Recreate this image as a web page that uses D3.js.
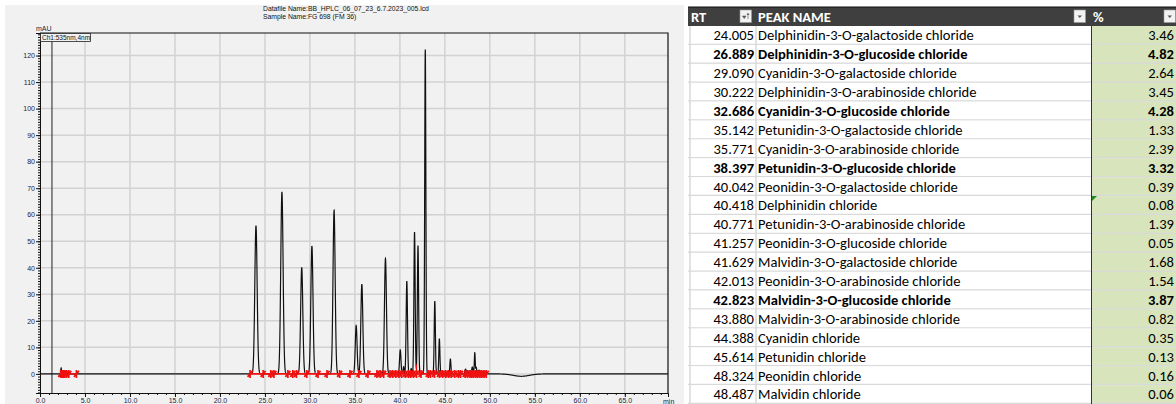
<!DOCTYPE html>
<html>
<head>
<meta charset="utf-8">
<script src="https://cdn.jsdelivr.net/npm/d3@7/dist/d3.min.js"></script>
<style>
  body { margin: 0; background: #fff; }
  svg { display: block; }
</style>
</head>
<body>
<div id="chart"></div>
<script>
// peak table (RT, name, area %)
var peakRT = [24.005, 26.889, 29.090, 30.222, 32.686, 35.142, 35.771, 38.397, 40.042, 40.418,
              40.771, 41.257, 41.629, 42.013, 42.823, 43.880, 44.388, 45.614, 48.324, 48.487]
var peakName = ['Delphinidin-3-O-galactoside chloride', 'Delphinidin-3-O-glucoside chloride',
    'Cyanidin-3-O-galactoside chloride', 'Delphinidin-3-O-arabinoside chloride',
    'Cyanidin-3-O-glucoside chloride', 'Petunidin-3-O-galactoside chloride',
    'Cyanidin-3-O-arabinoside chloride', 'Petunidin-3-O-glucoside chloride',
    'Peonidin-3-O-galactoside chloride', 'Delphinidin chloride',
    'Petunidin-3-O-arabinoside chloride', 'Peonidin-3-O-glucoside chloride',
    'Malvidin-3-O-galactoside chloride', 'Peonidin-3-O-arabinoside chloride',
    'Malvidin-3-O-glucoside chloride', 'Malvidin-3-O-arabinoside chloride',
    'Cyanidin chloride', 'Petunidin chloride', 'Peonidin chloride', 'Malvidin chloride']
var peakPct = ['3.46', '4.82', '2.64', '3.45', '4.28', '1.33', '2.39', '3.32', '0.39', '0.08',
               '1.39', '0.05', '1.68', '1.54', '3.87', '0.82', '0.35', '0.13', '0.16', '0.06']
var boldRows = [1, 4, 7, 14]

// peak heights (mAU) and widths (min)
var peakHeight = [55.8, 68.6, 40.1, 48.2, 61.7, 18.2, 33.8, 43.5, 9.0, 2.7,
                  35.0, 2.0, 53.5, 48.4, 122.4, 27.5, 13.3, 5.6, 8.0, 2.5]
var peakSigma = [0.13, 0.13, 0.12, 0.12, 0.12, 0.1, 0.11, 0.11, 0.08, 0.05,
                 0.075, 0.05, 0.07, 0.07, 0.065, 0.065, 0.06, 0.06, 0.05, 0.05]

// small unlabelled bumps / dips on the trace
var minorRT = [2.35, 2.75, 47.3, 47.7, 48.05, 48.8, 49.2, 53.5]
var minorHeight = [2.2, 0.8, 1.8, 1.2, 2.6, 1.4, 0.8, -0.9]
var minorSigma = [0.04, 0.05, 0.08, 0.06, 0.07, 0.07, 0.08, 0.9]

// integration marks (red)
var markTimes = [2.3, 2.45, 2.6, 2.75, 2.95, 3.2, 4.05,
    23.35, 24.8, 25.65, 26.0, 27.55, 28.1, 28.5, 29.65, 30.9, 31.9, 33.3, 34.45, 35.45, 36.45,
    37.45, 37.8, 38.2, 38.9, 39.2, 39.55, 39.9, 40.2, 40.6, 40.95, 41.2, 41.5, 41.85, 42.35,
    43.15, 43.4, 43.85, 44.4, 44.75, 45.1, 45.4, 45.7, 46.1, 46.5, 46.75, 47.25, 47.5, 47.8,
    48.0, 48.2, 48.45, 48.65, 48.9, 49.1, 49.35, 49.6]
var dropTimes = [35.45, 41.85]
var redBase = [[2.2, 4.1], [23.3, 49.6]]
var eventTime = 1.33

var xTicks = d3.range(0, 66, 5)
var yTicks = d3.range(0, 121, 10)

var svg = d3.select('#chart').append('svg').attr('width', 1176).attr('height', 404)

// ---------- chromatogram ----------
svg.append('rect').attr('x', 5).attr('y', 5).attr('width', 679).attr('height', 399).attr('fill', '#f1f1f1')

var x = d3.scaleLinear().domain([0, 69.8]).range([40, 668])
var y = d3.scaleLinear().domain([-7.2, 128.5]).range([393, 33])

var chart = svg.append('g').attr('font-family', 'Liberation Sans, Arial, sans-serif')

chart.append('text').attr('x', 263).attr('y', 10.5).attr('font-size', 6.8).attr('fill', '#111')
    .text('Datafile Name:BB_HPLC_06_07_23_6.7.2023_005.lcd')
chart.append('text').attr('x', 263).attr('y', 18.5).attr('font-size', 6.8).attr('fill', '#111')
    .text('Sample Name:FG 698 (FM 36)')

// grid
chart.append('g').selectAll('line').data(xTicks.filter(d => d > 0)).join('line')
    .attr('x1', d => x(d)).attr('x2', d => x(d)).attr('y1', y.range()[1]).attr('y2', y.range()[0])
    .attr('stroke', '#d2d2d2').attr('stroke-width', 1.5)
chart.append('g').selectAll('line').data(yTicks).join('line')
    .attr('x1', x.range()[0]).attr('x2', x.range()[1]).attr('y1', d => y(d)).attr('y2', d => y(d))
    .attr('stroke', '#d2d2d2').attr('stroke-width', 1.5)

// event line
chart.append('line').attr('x1', x(eventTime)).attr('x2', x(eventTime))
    .attr('y1', y.range()[1]).attr('y2', y.range()[0]).attr('stroke', '#222').attr('stroke-width', 1)

function signal(t) {
    var s = 0
    peakRT.forEach(function(rt, i) { s += peakHeight[i] * Math.exp(-0.5 * Math.pow((t - rt) / peakSigma[i], 2)) })
    minorRT.forEach(function(rt, i) { s += minorHeight[i] * Math.exp(-0.5 * Math.pow((t - rt) / minorSigma[i], 2)) })
    return s
}

var times = d3.range(0, 69.8, 0.01)
var line = d3.line().x(d => x(d)).y(d => y(signal(d)))

chart.append('path').datum(times).attr('d', line)
    .attr('fill', 'none').attr('stroke', '#111').attr('stroke-width', 1.2)

// red integration baseline + marks
var red = chart.append('g').attr('stroke', '#f01010').attr('fill', 'none')
red.selectAll('line.base').data(redBase).join('line').attr('class', 'base')
    .attr('x1', d => x(d[0])).attr('x2', d => x(d[1])).attr('y1', y(0)).attr('y2', y(0))
    .attr('stroke-width', 1.6)
red.selectAll('line.drop').data(dropTimes).join('line').attr('class', 'drop')
    .attr('x1', d => x(d)).attr('x2', d => x(d)).attr('y1', y(0)).attr('y2', d => y(signal(d)))
    .attr('stroke-width', 1.2)
red.selectAll('path').data(markTimes).join('path')
    .attr('transform', d => 'translate(' + x(d) + ',' + y(0) + ')')
    .attr('d', 'M0,-4V4M-2.5,3L2.5,-3')
    .attr('stroke-width', 1.7)

// axes
var yMinor = chart.append('g').attr('transform', 'translate(' + x.range()[0] + ',0)')
    .call(d3.axisLeft(y).tickValues(d3.range(-7, 129)).tickSize(2).tickFormat(''))
var yMajor = chart.append('g').attr('transform', 'translate(' + x.range()[0] + ',0)')
    .call(d3.axisLeft(y).tickValues(yTicks).tickSize(4).tickPadding(1).tickFormat(d3.format('d')))
var xMinor = chart.append('g').attr('transform', 'translate(0,' + y.range()[0] + ')')
    .call(d3.axisBottom(x).tickValues(d3.range(0, 70)).tickSize(2).tickFormat(''))
var xMajor = chart.append('g').attr('transform', 'translate(0,' + y.range()[0] + ')')
    .call(d3.axisBottom(x).tickValues(xTicks).tickSize(4).tickPadding(1).tickFormat(d3.format('.1f')))

chart.selectAll('.domain').attr('stroke', '#111')
chart.selectAll('.tick line').attr('stroke', '#111')
chart.selectAll('.tick text').attr('font-size', 7).attr('fill', '#1d2340').attr('font-family', 'Liberation Sans, Arial, sans-serif')

chart.append('text').attr('x', 663).attr('y', 403.5).attr('font-size', 7).attr('fill', '#1d2340').text('min')
chart.append('text').attr('x', 36).attr('y', 31).attr('font-size', 7).attr('fill', '#1d2340').text('mAU')

// top and right frame
chart.append('path')
    .attr('d', 'M' + x.range()[0] + ',' + y.range()[1] + 'H' + x.range()[1] + 'V' + y.range()[0])
    .attr('fill', 'none').attr('stroke', '#111').attr('stroke-width', 1.2)

// channel label
chart.append('rect').attr('x', 40.5).attr('y', 33.5).attr('width', 50).attr('height', 8)
    .attr('fill', '#f1f1f1').attr('stroke', '#222').attr('stroke-width', 0.8)
chart.append('text').attr('x', 42).attr('y', 40).attr('font-size', 6.5).attr('fill', '#111').text('Ch1:535nm,4nm')

// ---------- peak table ----------
var colX = [688, 756, 1091, 1176]
var headTop = 7, headH = 19, rowH = 18.9
var rowY = d3.scaleBand().domain(d3.range(peakRT.length))
    .range([headTop + headH, headTop + headH + rowH * peakRT.length])

var tbl = svg.append('g').attr('font-family', 'Carlito, Calibri, Lato, sans-serif')

// fit the font to the reference text width
var probe = tbl.append('text').attr('font-size', 14).text(peakName[0])
var fs = 14 * 216 / probe.node().getComputedTextLength()
probe.remove()

// header
tbl.append('rect').attr('x', colX[0]).attr('y', headTop).attr('width', colX[3] - colX[0]).attr('height', headH)
    .attr('fill', '#3f3f3f')
tbl.append('line').attr('x1', colX[0]).attr('x2', colX[3]).attr('y1', headTop).attr('y2', headTop)
    .attr('stroke', '#111').attr('stroke-width', 1.2)
var heads = [['RT', colX[0] + 3], ['PEAK NAME', colX[1] + 2], ['%', colX[2] + 2]]
tbl.selectAll('text.head').data(heads).join('text').attr('class', 'head')
    .attr('x', d => d[1]).attr('y', headTop + headH / 2).attr('dy', '0.36em')
    .attr('font-size', fs).attr('font-weight', 'bold').attr('fill', '#fff').text(d => d[0])

// filter buttons
var buttons = [740, 1074, 1164]
var btn = tbl.selectAll('g.btn').data(buttons).join('g').attr('class', 'btn')
    .attr('transform', d => 'translate(' + d + ',' + (headTop + 3) + ')')
btn.append('rect').attr('width', 11.5).attr('height', 12.5).attr('fill', '#f2f2f2')
    .attr('stroke', '#9a9a9a').attr('stroke-width', 0.6)
btn.filter((d, i) => i > 0).append('path').attr('d', 'M3.5,5.5H8L5.75,8Z').attr('fill', '#555')
btn.filter((d, i) => i == 0).append('path')
    .attr('d', 'M2.5,6H6L4.25,8.5Z M8,3.5V9 M6.8,4.8L8,3.3L9.2,4.8')
    .attr('fill', '#555').attr('stroke', '#555').attr('stroke-width', 0.6)

// row backgrounds
var rows = tbl.selectAll('g.row').data(peakRT).join('g').attr('class', 'row')
    .attr('transform', (d, i) => 'translate(0,' + rowY(i) + ')')
rows.append('rect').attr('x', colX[0]).attr('width', colX[2] - colX[0]).attr('height', rowH).attr('fill', '#fff')
rows.append('rect').attr('x', colX[2]).attr('width', colX[3] - colX[2]).attr('height', rowH).attr('fill', '#d8e4bc')
rows.append('line').attr('x1', colX[0]).attr('x2', colX[3]).attr('y1', rowH - 0.5).attr('y2', rowH - 0.5)
    .attr('stroke', '#d9d9d9').attr('stroke-width', 1.5)

// column borders
tbl.append('line').attr('x1', colX[0] + 2).attr('x2', colX[0] + 2).attr('y1', rowY.range()[0]).attr('y2', 404)
    .attr('stroke', '#d9d9d9').attr('stroke-width', 1.5)
tbl.append('line').attr('x1', colX[1]).attr('x2', colX[1]).attr('y1', rowY.range()[0]).attr('y2', 404)
    .attr('stroke', '#d9d9d9').attr('stroke-width', 1.5)
tbl.append('line').attr('x1', colX[2] + 0.5).attr('x2', colX[2] + 0.5).attr('y1', rowY.range()[0]).attr('y2', 404)
    .attr('stroke', '#333').attr('stroke-width', 1)

// cell text
var weight = (d, i) => boldRows.includes(i) ? 'bold' : 'normal'
rows.append('text').attr('x', colX[1] - 2).attr('y', rowH / 2).attr('dy', '0.34em').attr('text-anchor', 'end')
    .attr('font-size', fs).attr('font-weight', weight).attr('fill', '#000').text(d => d3.format('.3f')(d))
rows.append('text').attr('x', colX[1] + 2).attr('y', rowH / 2).attr('dy', '0.34em')
    .attr('font-size', fs).attr('font-weight', weight).attr('fill', '#000').text((d, i) => peakName[i])
rows.append('text').attr('x', colX[3] - 2).attr('y', rowH / 2).attr('dy', '0.34em').attr('text-anchor', 'end')
    .attr('font-size', fs).attr('font-weight', weight).attr('fill', '#000').text((d, i) => peakPct[i])

// excel error indicator on the 0.08 cell
tbl.append('path')
    .attr('transform', 'translate(' + (colX[2] + 1) + ',' + rowY(9) + ')')
    .attr('d', 'M0,0H5L0,5Z').attr('fill', '#1f8a1f')
</script>
</body>
</html>
